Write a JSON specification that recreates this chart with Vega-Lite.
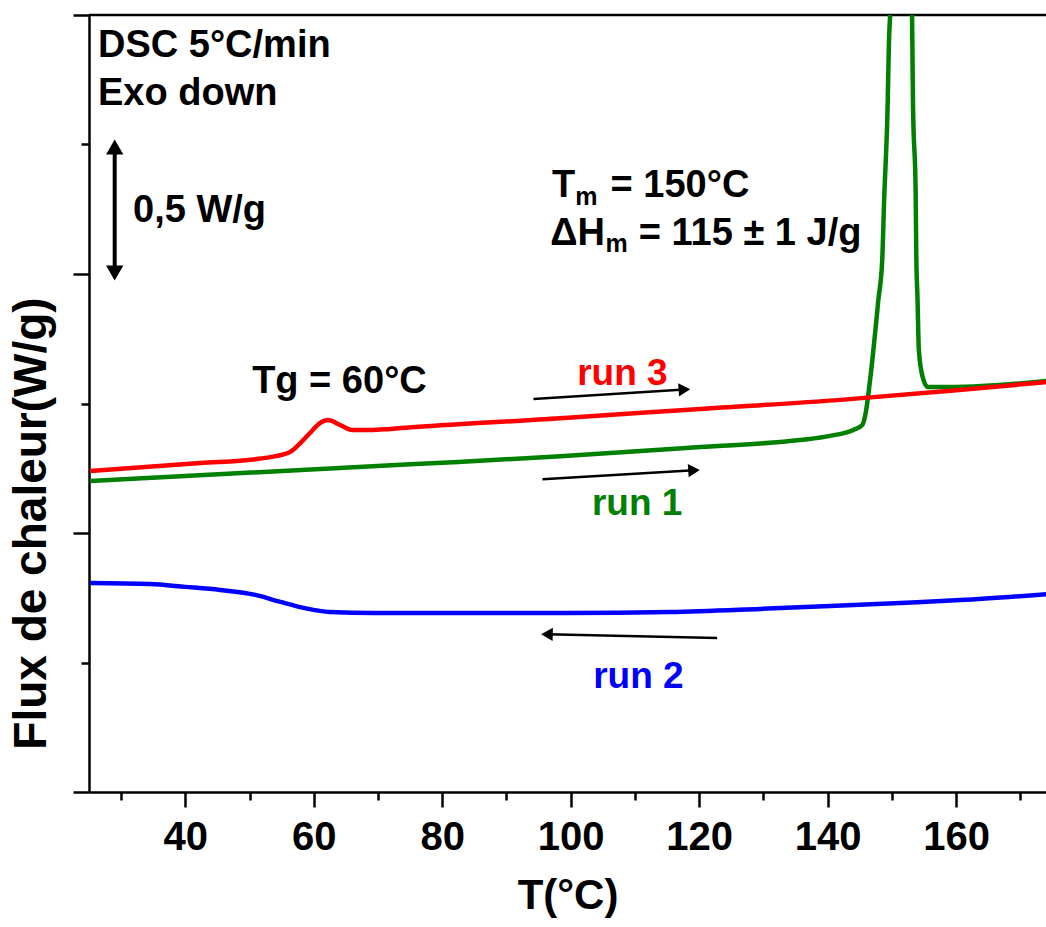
{
  "$schema": "https://vega.github.io/schema/vega-lite/v6.json",
  "width": 957,
  "height": 777,
  "autosize": "none",
  "padding": {"left": 89, "top": 15, "right": 0, "bottom": 135},
  "background": "white",
  "config": {"view": {"stroke": null}, "font": "Liberation Sans"},
  "datasets": {
    "curves": [
      {"series": "run 1", "T": 25.2, "flux": 1.201},
      {"series": "run 1", "T": 75.8, "flux": 1.266},
      {"series": "run 1", "T": 98.4, "flux": 1.296},
      {"series": "run 1", "T": 120.2, "flux": 1.332},
      {"series": "run 1", "T": 135.7, "flux": 1.359},
      {"series": "run 1", "T": 140.4, "flux": 1.375},
      {"series": "run 1", "T": 144.0, "flux": 1.398},
      {"series": "run 1", "T": 145.4, "flux": 1.417},
      {"series": "run 1", "T": 145.9, "flux": 1.46},
      {"series": "run 1", "T": 146.7, "flux": 1.61},
      {"series": "run 1", "T": 147.9, "flux": 1.9},
      {"series": "run 1", "T": 148.5, "flux": 2.054},
      {"series": "run 1", "T": 148.8, "flux": 2.286},
      {"series": "run 1", "T": 149.3, "flux": 2.606},
      {"series": "run 1", "T": 149.6, "flux": 2.931},
      {"series": "run 1", "T": 151.3, "flux": 3.4},
      {"series": "run 1", "T": 153.1, "flux": 3.05},
      {"series": "run 1", "T": 153.3, "flux": 2.645},
      {"series": "run 1", "T": 153.7, "flux": 2.324},
      {"series": "run 1", "T": 153.8, "flux": 2.081},
      {"series": "run 1", "T": 154.0, "flux": 1.9},
      {"series": "run 1", "T": 154.2, "flux": 1.707},
      {"series": "run 1", "T": 154.8, "flux": 1.602},
      {"series": "run 1", "T": 155.6, "flux": 1.564},
      {"series": "run 1", "T": 159.6, "flux": 1.564},
      {"series": "run 1", "T": 174.1, "flux": 1.587},
      {"series": "run 2", "T": 25.2, "flux": 0.807},
      {"series": "run 2", "T": 34.5, "flux": 0.803},
      {"series": "run 2", "T": 40.0, "flux": 0.792},
      {"series": "run 2", "T": 45.4, "flux": 0.78},
      {"series": "run 2", "T": 50.9, "flux": 0.761},
      {"series": "run 2", "T": 54.8, "flux": 0.734},
      {"series": "run 2", "T": 58.6, "flux": 0.71},
      {"series": "run 2", "T": 62.5, "flux": 0.695},
      {"series": "run 2", "T": 69.5, "flux": 0.691},
      {"series": "run 2", "T": 99.1, "flux": 0.691},
      {"series": "run 2", "T": 115.5, "flux": 0.695},
      {"series": "run 2", "T": 129.5, "flux": 0.707},
      {"series": "run 2", "T": 140.4, "flux": 0.718},
      {"series": "run 2", "T": 151.3, "flux": 0.73},
      {"series": "run 2", "T": 160.7, "flux": 0.741},
      {"series": "run 2", "T": 174.1, "flux": 0.764},
      {"series": "run 3", "T": 25.2, "flux": 1.239},
      {"series": "run 3", "T": 42.3, "flux": 1.27},
      {"series": "run 3", "T": 50.9, "flux": 1.285},
      {"series": "run 3", "T": 53.2, "flux": 1.293},
      {"series": "run 3", "T": 56.3, "flux": 1.313},
      {"series": "run 3", "T": 57.9, "flux": 1.347},
      {"series": "run 3", "T": 59.4, "flux": 1.386},
      {"series": "run 3", "T": 61.0, "flux": 1.425},
      {"series": "run 3", "T": 62.2, "flux": 1.436},
      {"series": "run 3", "T": 64.1, "flux": 1.417},
      {"series": "run 3", "T": 66.0, "flux": 1.398},
      {"series": "run 3", "T": 68.8, "flux": 1.398},
      {"series": "run 3", "T": 71.9, "flux": 1.402},
      {"series": "run 3", "T": 75.8, "flux": 1.409},
      {"series": "run 3", "T": 98.4, "flux": 1.443},
      {"series": "run 3", "T": 120.2, "flux": 1.479},
      {"series": "run 3", "T": 142.0, "flux": 1.514},
      {"series": "run 3", "T": 159.6, "flux": 1.55},
      {"series": "run 3", "T": 174.1, "flux": 1.583}
    ],
    "notes": [
      {"label": "DSC 5°C/min", "T": 26.4, "flux": 2.838},
      {"label": "Exo down", "T": 26.4, "flux": 2.653},
      {"label": "0,5 W/g", "T": 31.85, "flux": 2.201},
      {"label": "Tg = 60°C", "T": 50.4, "flux": 1.541},
      {"label": "T", "T": 97.1, "flux": 2.297},
      {"label": "= 150°C", "T": 106.2, "flux": 2.297},
      {"label": "ΔH", "T": 96.8, "flux": 2.112},
      {"label": "= 115 ± 1 J/g", "T": 110.6, "flux": 2.112}
    ],
    "subs": [
      {"label": "m", "T": 100.7, "flux": 2.266},
      {"label": "m", "T": 105.4, "flux": 2.085}
    ],
    "runlabels": [
      {"series": "run 3", "T": 101.0, "flux": 1.571},
      {"series": "run 1", "T": 103.3, "flux": 1.069},
      {"series": "run 2", "T": 103.5, "flux": 0.402}
    ],
    "frame": [
      {"T": 25, "flux": 3, "T2": 174}
    ],
    "arrows": [
      {"name": "run 3", "T": 94.2, "flux": 1.517, "T2": 117.7, "flux2": 1.554},
      {"name": "run 1", "T": 95.6, "flux": 1.208, "T2": 119.2, "flux2": 1.242},
      {"name": "run 2", "T": 122.8, "flux": 0.595, "T2": 96.3, "flux2": 0.609}
    ],
    "scalebar": [
      {"name": "0,5 W/g", "T": 29.0, "flux": 2.49, "T2": 29.0, "flux2": 2.004}
    ],
    "heads": [
      {"name": "run 3", "dir": "right", "T": 117.7, "flux": 1.554},
      {"name": "run 1", "dir": "right", "T": 119.2, "flux": 1.242},
      {"name": "run 2", "dir": "left", "T": 96.3, "flux": 0.609},
      {"name": "scale", "dir": "up", "T": 29.0, "flux": 2.49},
      {"name": "scale", "dir": "down", "T": 29.0, "flux": 2.004}
    ]
  },
  "encoding": {
    "x": {
      "field": "T", "type": "quantitative",
      "scale": {"domain": [25, 174], "nice": false, "zero": false},
      "axis": {
        "values": [30, 40, 50, 60, 70, 80, 90, 100, 110, 120, 130, 140, 150, 160, 170],
        "labelExpr": "datum.value % 20 === 0 ? datum.label : ''",
        "tickSize": {"condition": {"test": "datum.value % 20 === 0", "value": 15}, "value": 8},
        "tickWidth": 2.5, "tickColor": "black",
        "domainColor": "black", "domainWidth": 2.5,
        "labelFont": "Liberation Sans", "labelFontWeight": "bold", "labelFontSize": 40,
        "labelColor": "black", "labelPadding": 10, "labelFlush": false, "labelOverlap": false,
        "grid": false,
        "title": "T(°C)", "titleFont": "Liberation Sans", "titleFontSize": 42,
        "titleFontWeight": "bold", "titleColor": "black", "titlePadding": 18
      }
    },
    "y": {
      "field": "flux", "type": "quantitative",
      "scale": {"domain": [0, 3], "nice": false, "zero": false},
      "axis": {
        "values": [0, 0.5, 1, 1.5, 2, 2.5, 3],
        "labels": false,
        "tickSize": {"condition": {"test": "datum.value % 1 === 0", "value": 16}, "value": 8},
        "tickWidth": 2.5, "tickColor": "black",
        "domainColor": "black", "domainWidth": 2.5,
        "grid": false,
        "title": "Flux de chaleur(W/g)", "titleFont": "Liberation Sans", "titleFontSize": 46,
        "titleFontWeight": "bold", "titleColor": "black", "titlePadding": 16,
        "titleY": 508
      }
    }
  },
  "layer": [
    {
      "data": {"name": "frame"},
      "mark": {"type": "rule", "strokeWidth": 2.5, "color": "black"},
      "encoding": {"x2": {"field": "T2"}}
    },
    {
      "data": {"name": "curves"},
      "mark": {"type": "line", "strokeWidth": 4.5, "clip": true, "interpolate": "monotone"},
      "encoding": {
        "color": {
          "field": "series", "type": "nominal",
          "scale": {"domain": ["run 1", "run 2", "run 3"], "range": ["#008000", "#0000ff", "#ff0000"]},
          "legend": null
        }
      }
    },
    {
      "data": {"name": "notes"},
      "mark": {"type": "text", "align": "left", "baseline": "alphabetic", "font": "Liberation Sans", "fontWeight": "bold", "fontSize": 38, "color": "black"},
      "encoding": {"text": {"field": "label"}}
    },
    {
      "data": {"name": "subs"},
      "mark": {"type": "text", "align": "left", "baseline": "alphabetic", "font": "Liberation Sans", "fontWeight": "bold", "fontSize": 25, "color": "black"},
      "encoding": {"text": {"field": "label"}}
    },
    {
      "data": {"name": "runlabels"},
      "mark": {"type": "text", "align": "left", "baseline": "alphabetic", "font": "Liberation Sans", "fontWeight": "bold", "fontSize": 37},
      "encoding": {
        "text": {"field": "series"},
        "color": {"field": "series", "type": "nominal", "legend": null}
      }
    },
    {
      "data": {"name": "arrows"},
      "mark": {"type": "rule", "strokeWidth": 2.5, "color": "black"},
      "encoding": {"x2": {"field": "T2"}, "y2": {"field": "flux2"}}
    },
    {
      "data": {"name": "scalebar"},
      "mark": {"type": "rule", "strokeWidth": 4, "color": "black"},
      "encoding": {"x2": {"field": "T2"}, "y2": {"field": "flux2"}}
    },
    {
      "data": {"name": "heads"},
      "transform": [{"filter": "datum.dir === 'right'"}],
      "mark": {"type": "point", "shape": "triangle-right", "filled": true, "size": 180, "angle": -3.5, "color": "black", "opacity": 1}
    },
    {
      "data": {"name": "heads"},
      "transform": [{"filter": "datum.dir === 'left'"}],
      "mark": {"type": "point", "shape": "triangle-left", "filled": true, "size": 180, "angle": 1.3, "color": "black", "opacity": 1}
    },
    {
      "data": {"name": "heads"},
      "transform": [{"filter": "datum.dir === 'up'"}],
      "mark": {"type": "point", "shape": "triangle-up", "filled": true, "size": 300, "color": "black", "opacity": 1}
    },
    {
      "data": {"name": "heads"},
      "transform": [{"filter": "datum.dir === 'down'"}],
      "mark": {"type": "point", "shape": "triangle-down", "filled": true, "size": 300, "color": "black", "opacity": 1}
    }
  ]
}
